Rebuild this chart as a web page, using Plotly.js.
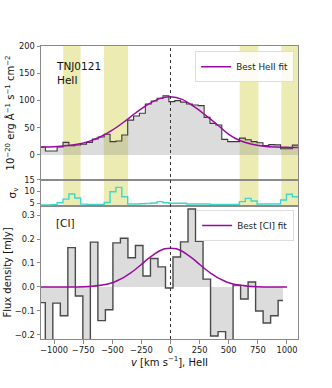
<!DOCTYPE html>
<html>
<head>
<meta charset="utf-8">
<script src="https://cdn.plot.ly/plotly-3.0.1.min.js"></script>
<style>
  body { margin: 0; background: white; }
  #graph { width: 332px; height: 388px; }
</style>
</head>
<body>
<div id="graph"></div>
<script>
// HeII spectrum, bin left edges (km/s) + final right edge
var heiiEdges = [-1125, -1074.5, -1024, -973.5, -923, -872.5, -822, -771.5, -721, -670.5,
    -620, -569.5, -519, -468.5, -418, -367.5, -317, -266.5, -216, -165.5,
    -115, -64.5, -14, 36.5, 87, 137.5, 188, 238.5, 289, 339.5,
    390, 440.5, 491, 541.5, 592, 642.5, 693, 743.5, 794, 844.5,
    895, 945.5, 996, 1046.5, 1097];
var heiiFlux = [14.7, 7.3, 7.3, 14.7, 23.2, 17, 18.3, 20, 23.2, 29.4,
    33, 38, 24.5, 25.7, 36.7, 64, 71.6, 76.5, 93.6, 99,
    104, 108.8, 98, 99.7, 97, 93.6, 91.7, 90.5, 69, 58,
    55, 28.7, 24.5, 24.5, 31, 28, 24.5, 22.5, 17.5, 19,
    18.5, 11.5, 11.5, 18];
var heiiSigma = [4.2, 4.2, 4.3, 5.1, 6.7, 8.9, 7.2, 4.5, 4.4, 4.4,
    4.4, 5.2, 9.9, 11.8, 7.7, 4.6, 4.6, 4.7, 4.8, 5.0,
    5.6, 5.1, 4.9, 4.9, 4.9, 4.6, 4.6, 4.6, 4.6, 4.4,
    4.4, 4.4, 4.4, 4.4, 5.6, 7.0, 5.9, 4.6, 4.6, 4.6,
    4.6, 6.3, 8.8, 7.7];

// best HeII fit, read every 100 km/s
var fitV = [-1200, -1100, -1000, -900, -800, -700, -600, -500, -400, -300, -200, -100,
    0, 100, 200, 300, 400, 500, 600, 700, 800, 900, 1000, 1100, 1200];
var heiiFit = [14.3, 14.5, 15.2, 16.8, 19.8, 25, 33.5, 45.5, 60.5, 77, 92, 103,
    107, 102, 89, 73, 56, 38, 26, 19.5, 16, 14.5, 14, 13.5, 13.3];

// [CI] spectrum
var ciEdges = [-1139.5, -1075, -1010.5, -946, -881.5, -817, -752.5, -688, -623.5, -559,
    -494.5, -430, -365.5, -301, -236.5, -172, -107.5, -43, 21.5, 86,
    150.5, 215, 279.5, 344, 408.5, 473, 537.5, 602, 666.5, 731,
    795.5, 860, 924.5, 966];
var ciFlux = [-0.065, -0.25, -0.067, -0.12, 0.164, -0.0375, -0.25, 0.187, -0.14, -0.095,
    0.184, 0.203, 0.122, 0.173, 0.046, 0.119, 0.084, -0.004, 0.125, 0.188,
    0.325, 0.19, 0.033, -0.204, -0.186, -0.25, 0.008, -0.05, 0.021, -0.1,
    -0.15, -0.12, -0.056];
var ciFitV = [-1200, -1100, -1000, -900, -800, -700, -600, -500, -450, -400, -350, -300, -250, -200, -150, -100, -50,
    0, 50, 100, 150, 200, 250, 300, 350, 400, 450, 500, 600, 700, 800, 900, 1000];
var ciFit = [0, 0, 0, 0, 0, 0.002, 0.007, 0.018, 0.028, 0.040, 0.056, 0.074, 0.094, 0.115, 0.133, 0.149, 0.159,
    0.162, 0.159, 0.149, 0.133, 0.115, 0.094, 0.074, 0.056, 0.040, 0.028, 0.018, 0.007, 0.002, 0, 0, 0];

// masked velocity windows
var bandStart = [-921, -572, 594, 952];
var bandEnd = [-772, -364, 755, 1100];

var xRange = [-1112, 1095];
var axisCol = '#8a8a8a';
var tickFont = {family: 'DejaVu Sans', size: 8.3, color: '#222'};

function stepY(vals) {
    return vals.concat([vals[vals.length - 1]]);
}

var data = [
    {
        x: heiiEdges, y: stepY(heiiFlux), xaxis: 'x3', yaxis: 'y3',
        type: 'scatter', mode: 'lines', line: {shape: 'hv', color: '#3a3a3a', width: 1.1},
        fill: 'tozeroy', fillcolor: 'rgba(128,128,128,0.28)', showlegend: false, hoverinfo: 'skip'
    },
    {
        x: fitV, y: heiiFit, xaxis: 'x3', yaxis: 'y3',
        type: 'scatter', mode: 'lines', line: {shape: 'spline', color: '#9a0aa0', width: 1.5},
        name: 'Best HeII fit', legend: 'legend'
    },
    {
        x: heiiEdges, y: stepY(heiiSigma), xaxis: 'x2', yaxis: 'y2',
        type: 'scatter', mode: 'lines', line: {shape: 'hv', color: '#3cd8cc', width: 1.4},
        showlegend: false, hoverinfo: 'skip'
    },
    {
        x: ciEdges, y: stepY(ciFlux), xaxis: 'x', yaxis: 'y',
        type: 'scatter', mode: 'lines', line: {shape: 'hv', color: '#4a4a4a', width: 1.4},
        fill: 'tozeroy', fillcolor: 'rgba(128,128,128,0.28)', showlegend: false, hoverinfo: 'skip'
    },
    {
        x: ciFitV, y: ciFit, xaxis: 'x', yaxis: 'y',
        type: 'scatter', mode: 'lines', line: {shape: 'spline', color: '#9a0aa0', width: 1.5},
        name: 'Best [CI] fit', legend: 'legend2'
    }
];

var shapes = [];
for (var i = 0; i < bandStart.length; i++) {
    shapes.push({
        type: 'rect', xref: 'x3', yref: 'paper', x0: bandStart[i], x1: bandEnd[i], y0: 0.4539, y1: 1,
        fillcolor: 'rgba(191,191,0,0.3)', line: {width: 0}, layer: 'below'
    });
}
shapes.push({
    type: 'line', xref: 'x', yref: 'paper', x0: 0, x1: 0, y0: 0, y1: 1,
    line: {color: '#333', width: 1, dash: 'dot'}, layer: 'above'
});

function baseX(anchor, labels) {
    return {
        anchor: anchor, range: xRange, showticklabels: labels, tickfont: tickFont,
        tickvals: [-1000, -750, -500, -250, 0, 250, 500, 750, 1000],
        ticks: labels ? 'outside' : '', ticklen: 3.5, tickcolor: axisCol,
        showline: true, mirror: true, linecolor: axisCol, linewidth: 1,
        showgrid: false, zeroline: false
    };
}
function baseY(domain, range, vals) {
    return {
        domain: domain, range: range, tickvals: vals, tickfont: tickFont,
        ticks: 'outside', ticklen: 3.5, tickcolor: axisCol,
        showline: true, mirror: true, linecolor: axisCol, linewidth: 1,
        showgrid: false, zeroline: false
    };
}

var xaxis = baseX('y', true);
xaxis.title = {text: '<i>v</i> [km s<sup>−1</sup>], HeII', font: {size: 10, color: '#111'}, standoff: 2};
var yaxis = baseY([0, 0.4539], [-0.2167, 0.3375], [-0.2, -0.1, 0, 0.1, 0.2, 0.3]);
yaxis.tickformat = '.1f';
yaxis.title = {text: 'Flux density [mJy]', font: {size: 10, color: '#111'}, standoff: 1};
var yaxis2 = baseY([0.4539, 0.5427], [3.7, 15], [5, 10, 15]);
yaxis2.title = {text: 'σ<sub>v</sub>', font: {size: 10.5, color: '#111'}, standoff: 5};
var yaxis3 = baseY([0.5427, 1], [-45.9, 200], [0, 50, 100, 150, 200]);
yaxis3.title = {text: '10<sup>−20</sup> erg Å<sup>−1</sup> s<sup>−1</sup> cm<sup>−2</sup>', font: {size: 10, color: '#111'}, standoff: 2};

var layout = {
    width: 332, height: 388,
    margin: {l: 41, r: 34, t: 46, b: 49},
    paper_bgcolor: 'white', plot_bgcolor: 'white',
    font: {family: 'DejaVu Sans', size: 8.3, color: '#222'},
    showlegend: true,
    xaxis: xaxis, xaxis2: baseX('y2', false), xaxis3: baseX('y3', false),
    yaxis: yaxis, yaxis2: yaxis2, yaxis3: yaxis3,
    legend: {
        x: 0.985, xanchor: 'right', y: 0.982, yanchor: 'top',
        bgcolor: 'rgba(255,255,255,0.85)', bordercolor: '#dddddd', borderwidth: 1,
        font: {family: 'DejaVu Sans', size: 8.8, color: '#222'}, itemwidth: 30, tracegroupgap: 0
    },
    legend2: {
        x: 0.985, xanchor: 'right', y: 0.44, yanchor: 'top',
        bgcolor: 'rgba(255,255,255,0.85)', bordercolor: '#dddddd', borderwidth: 1,
        font: {family: 'DejaVu Sans', size: 8.8, color: '#222'}, itemwidth: 30, tracegroupgap: 0
    },
    shapes: shapes,
    annotations: [
        {
            text: 'TNJ0121<br>HeII', xref: 'paper', yref: 'paper', x: 0.052, y: 0.96,
            xanchor: 'left', yanchor: 'top', align: 'left', showarrow: false,
            font: {family: 'DejaVu Sans', size: 10.5, color: '#111'}
        },
        {
            text: '[CI]', xref: 'paper', yref: 'paper', x: 0.052, y: 0.396,
            xanchor: 'left', yanchor: 'middle', showarrow: false,
            font: {family: 'DejaVu Sans', size: 10.5, color: '#111'}
        }
    ]
};

var config = {staticPlot: true};
Plotly.newPlot('graph', data, layout, config);
</script>
</body>
</html>
